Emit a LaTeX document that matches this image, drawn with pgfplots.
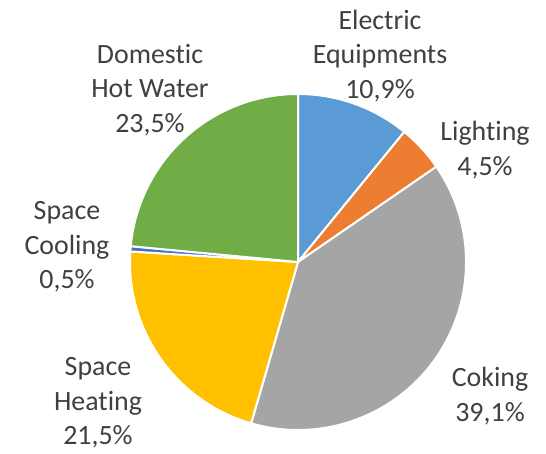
\documentclass[border=0pt]{standalone}
\usepackage{pgfplots}
\pgfplotsset{compat=1.18}
\usepackage{pgfplotstable}
\usepackage{fontspec}
\setmainfont[Ligatures={NoCommon}]{Carlito}

\definecolor{cEE}{HTML}{5B9BD5}
\definecolor{cLi}{HTML}{ED7D31}
\definecolor{cCo}{HTML}{A5A5A5}
\definecolor{cSH}{HTML}{FFC000}
\definecolor{cSC}{HTML}{4472C4}
\definecolor{cDH}{HTML}{70AD47}
\definecolor{txt}{HTML}{404040}

% shares in percent, clockwise from 12 o'clock
\pgfplotstableread[col sep=comma]{
label,value
Electric Equipments,10.9
Lighting,4.5
Coking,39.1
Space Heating,21.5
Space Cooling,0.5
Domestic Hot Water,23.5
}\piedata

\newcommand{\getval}[2]{\pgfplotstablegetelem{#1}{value}\of\piedata\let#2\pgfplotsretval}
\getval{0}\vA \getval{1}\vB \getval{2}\vC \getval{3}\vD \getval{4}\vE \getval{5}\vF
\pgfmathsetmacro\aA{90-3.6*\vA}
\pgfmathsetmacro\aB{\aA-3.6*\vB}
\pgfmathsetmacro\aC{\aB-3.6*\vC}
\pgfmathsetmacro\aD{\aC-3.6*\vD}
\pgfmathsetmacro\aE{\aD-3.6*\vE}
\pgfmathsetmacro\aF{\aE-3.6*\vF}

\newcommand{\slice}[3]{% color, start, end
  \filldraw[fill=#1, draw=white, line width=2bp, line join=round]
    (axis cs:298,192) -- ++(#2:168bp) arc[start angle=#2, end angle=#3, radius=168bp] -- cycle;}

\begin{document}
\begin{tikzpicture}
\begin{axis}[
  x=1bp, y=1bp, scale only axis,
  xmin=0, xmax=546, ymin=0, ymax=454,
  hide axis,
  nodes={font=\fontsize{28}{34.5}\selectfont, text=txt, align=center, inner sep=0pt},
]
\path (axis cs:0,0) rectangle (axis cs:546,454);
\slice{cEE}{90}{\aA}
\slice{cLi}{\aA}{\aB}
\slice{cCo}{\aB}{\aC}
\slice{cSH}{\aC}{\aD}
\slice{cSC}{\aD}{\aE}
\slice{cDH}{\aE}{\aF}

\node at (axis cs:380,398) {Electric\\Equipments\\10,9\%};
\node at (axis cs:485,304) {Lighting\\4,5\%};
\node at (axis cs:490,58) {Coking\\39,1\%};
\node at (axis cs:98,51) {Space\\Heating\\21,5\%};
\node at (axis cs:67,207) {Space\\Cooling\\0,5\%};
\node at (axis cs:150,364) {Domestic\\Hot Water\\23,5\%};
\end{axis}
\end{tikzpicture}
\end{document}
